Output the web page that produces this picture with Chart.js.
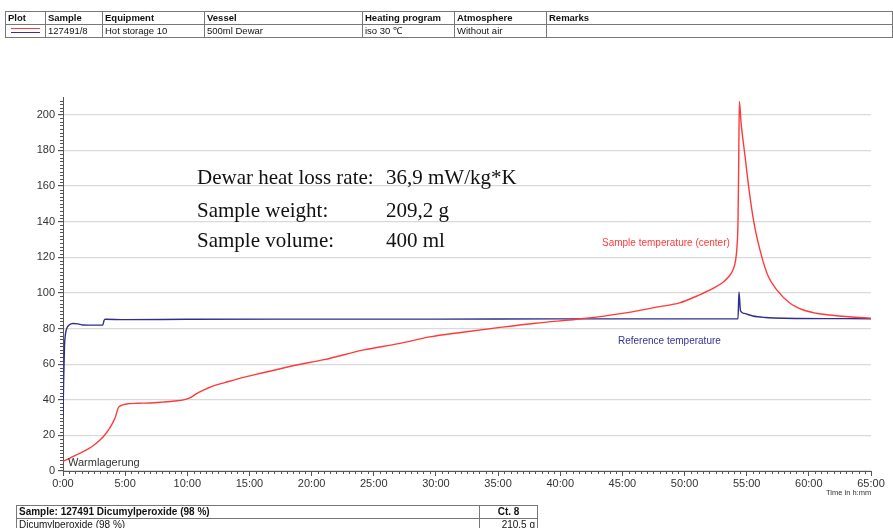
<!DOCTYPE html>
<html>
<head>
<meta charset="utf-8">
<script src="https://cdn.jsdelivr.net/npm/chart.js@4"></script>
<style>
  body { margin: 0; width: 893px; height: 528px; overflow: hidden; background: #fff; font-family: "Liberation Sans", Arial, sans-serif; }
  #chart { position: absolute; left: 0; top: 0; }
  .tbl { position: absolute; border-collapse: collapse; font-size: 9.5px; color: #111; }
  .tbl td { border: 1px solid #777; padding: 0 2px; height: 12px; line-height: 12px; white-space: nowrap; overflow: hidden; }
  .tbl .h td { font-weight: bold; }
  .note { position: absolute; white-space: nowrap; }
  .info { position: absolute; font-family: "Liberation Serif", "Times New Roman", serif; font-size: 21px; line-height: 24px; color: #111; white-space: nowrap; }
</style>
</head>
<body>
<canvas id="chart" width="893" height="528"></canvas>

<table class="tbl" style="left:5px; top:11px; width:888px;">
  <tr class="h"><td style="width:35px">Plot</td><td style="width:52px">Sample</td><td style="width:97px">Equipment</td><td style="width:153px">Vessel</td><td style="width:87px">Heating program</td><td style="width:87px">Atmosphere</td><td>Remarks</td></tr>
  <tr><td><div style="position:relative;height:12px"><div style="position:absolute;left:3px;top:3px;width:29px;height:1px;background:#ff3a3a"></div><div style="position:absolute;left:3px;top:7px;width:29px;height:1px;background:#33339a"></div></div></td><td>127491/8</td><td>Hot storage 10</td><td>500ml Dewar</td><td>iso 30 ℃</td><td>Without air</td><td></td></tr>
</table>

<table class="tbl" style="left:16px; top:505px; width:522px; font-size:10px;">
  <tr class="h"><td>Sample: 127491 Dicumylperoxide (98 %)</td><td style="width:53px; text-align:center">Ct. 8</td></tr>
  <tr><td>Dicumylperoxide (98 %)</td><td style="text-align:right">210,5 g</td></tr>
</table>

<div class="info" style="left:197px; top:165px;">Dewar heat loss rate:</div>
<div class="info" style="left:386px; top:165px;">36,9 mW/kg*K</div>
<div class="info" style="left:197px; top:198px;">Sample weight:</div>
<div class="info" style="left:386px; top:198px;">209,2 g</div>
<div class="info" style="left:197px; top:228px;">Sample volume:</div>
<div class="info" style="left:386px; top:228px;">400 ml</div>

<div class="note" style="left:602px; top:237px; font-size:10px; color:#ff3a3a;">Sample temperature (center)</div>
<div class="note" style="left:618px; top:335px; font-size:10px; color:#33339a;">Reference temperature</div>
<div class="note" style="left:68px; top:456px; font-size:11px; color:#333;">Warmlagerung</div>
<div class="note" style="left:826px; top:488px; font-size:7.5px; color:#333;">Time in h:mm</div>

<script>
// time in hours
const sampleTime = [0, 0.5, 1, 1.5, 2, 2.5, 3, 3.5, 3.9, 4.2, 4.45, 4.7, 5.1, 6, 7, 8, 9, 9.7, 10.2, 10.75, 11.5, 12.1, 13, 14.2, 16, 18.8, 21, 24.2, 27, 29.5, 32, 35, 38, 41.9, 45, 48, 49.6, 51.2, 52.3, 53.1, 53.6, 53.9, 54.1, 54.22, 54.3, 54.36, 54.41, 54.55, 54.87, 55.19, 55.59, 56.21, 56.74, 57.42, 58.49, 59.56, 60.6, 61.7, 63.2, 65];
const sampleTemp = [5.5, 7, 8.8, 10.5, 12.3, 14.6, 17.5, 21.5, 25.8, 30, 35.5, 36.8, 37.6, 38, 38.2, 38.7, 39.3, 39.9, 41, 43.5, 46, 47.8, 49.6, 52, 55, 59.5, 62.5, 68, 71.5, 75.3, 77.8, 80.5, 83, 85.6, 88.5, 92.3, 94.4, 98.9, 102.5, 106, 109.5, 113, 118, 126, 140, 175, 207.5, 195.3, 176.6, 157.9, 139.2, 120.4, 109.2, 101.7, 94.2, 90.4, 88.6, 87.6, 86.6, 85.8];

const refTime = [0, 0.05, 0.12, 0.2, 0.3, 0.5, 0.8, 1.2, 1.6, 2.5, 3.2, 3.3, 3.4, 5, 10, 20, 30, 40, 50, 54.3, 54.38, 54.5, 54.8, 55.5, 56.5, 58, 65];
const refTemp = [30, 50, 70, 77, 80, 82, 82.8, 82.6, 82, 81.9, 82, 84.5, 85.2, 85, 85.2, 85.3, 85.3, 85.4, 85.4, 85.5, 100.5, 90, 88.5, 87, 86.2, 85.8, 85.5];

const xTicks = [0, 5, 10, 15, 20, 25, 30, 35, 40, 45, 50, 55, 60, 65];
const yTicks = [0, 20, 40, 60, 80, 100, 120, 140, 160, 180, 200];

const toPoints = (xs, ys) => xs.map((x, i) => ({ x: x, y: ys[i] }));

// small minor tick marks along both axes
const minorTicks = {
  id: 'minorTicks',
  afterDraw(chart) {
    const ctx = chart.ctx;
    const xs = chart.scales.x, ys = chart.scales.y;
    ctx.save();
    ctx.strokeStyle = '#555';
    ctx.lineWidth = 1;
    ctx.beginPath();
    for (let v = 0; v <= 208; v += 2) {
      if (v % 20 === 0) continue;
      const py = Math.round(ys.getPixelForValue(v)) + 0.5;
      ctx.moveTo(xs.left - 3, py);
      ctx.lineTo(xs.left, py);
    }
    for (let v = 0; v <= 65; v += 0.5) {
      if (v % 5 === 0) continue;
      const px = Math.round(xs.getPixelForValue(v)) + 0.5;
      ctx.moveTo(px, ys.bottom);
      ctx.lineTo(px, ys.bottom + 3);
    }
    ctx.stroke();
    ctx.restore();
  }
};

new Chart(document.getElementById('chart'), {
  type: 'line',
  data: {
    datasets: [
      {
        label: 'Sample temperature (center)',
        data: toPoints(sampleTime, sampleTemp),
        borderColor: '#ff3a3a',
        borderWidth: 1.4,
        pointRadius: 0,
        cubicInterpolationMode: 'monotone'
      },
      {
        label: 'Reference temperature',
        data: toPoints(refTime, refTemp),
        borderColor: '#2e2e8f',
        borderWidth: 1.4,
        pointRadius: 0,
        cubicInterpolationMode: 'monotone'
      }
    ]
  },
  options: {
    responsive: false,
    animation: false,
    layout: { padding: { left: 0, right: 22, top: 97, bottom: 0 } },
    plugins: { legend: { display: false }, tooltip: { enabled: false } },
    scales: {
      x: {
        type: 'linear',
        min: 0,
        max: 65,
        afterFit: (s) => { s.height = 57; },
        afterBuildTicks: (s) => { s.ticks = xTicks.map(v => ({ value: v })); },
        ticks: {
          callback: (v) => v + ':00',
          color: '#333',
          font: { family: 'Liberation Sans', size: 11 },
          padding: 1,
          maxRotation: 0,
          autoSkip: false
        },
        grid: { drawOnChartArea: false, tickColor: '#555', tickLength: 5 },
        border: { color: '#555', width: 1 }
      },
      y: {
        min: 0,
        max: 210,
        afterFit: (s) => { s.width = 63; },
        afterBuildTicks: (s) => { s.ticks = yTicks.map(v => ({ value: v })); },
        ticks: {
          color: '#333',
          font: { family: 'Liberation Sans', size: 11 },
          padding: 3
        },
        grid: { color: '#d9d9d9', lineWidth: 1.2, tickColor: '#555', tickLength: 5 },
        border: { color: '#555', width: 1 }
      }
    }
  },
  plugins: [minorTicks]
});
</script>
</body>
</html>
